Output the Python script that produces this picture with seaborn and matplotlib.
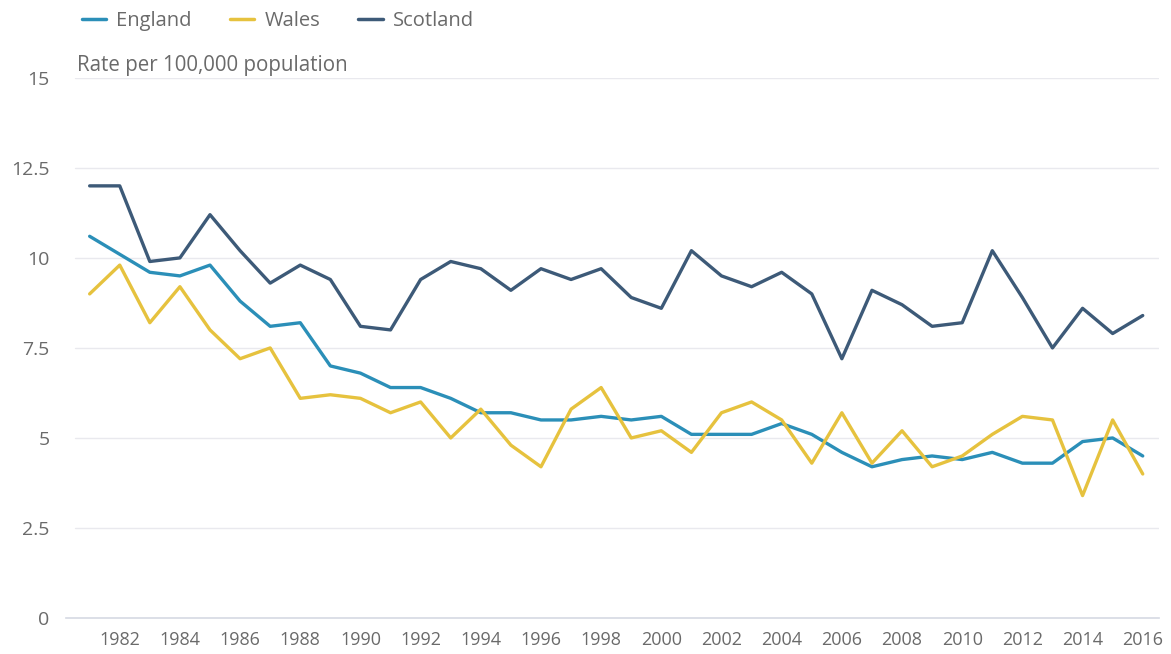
import pandas as pd
import numpy as np
import matplotlib.pyplot as plt
import seaborn as sns

# Values
years = list(range(1981, 2017))
england = [10.6, 10.1, 9.6, 9.5, 9.8, 8.8, 8.1, 8.2, 7.0, 6.8,
           6.4, 6.4, 6.1, 5.7, 5.7, 5.5, 5.5, 5.6, 5.5, 5.6,
           5.1, 5.1, 5.1, 5.4, 5.1, 4.6, 4.2, 4.4, 4.5, 4.4,
           4.6, 4.3, 4.3, 4.9, 5.0, 4.5]
wales = [9.0, 9.8, 8.2, 9.2, 8.0, 7.2, 7.5, 6.1, 6.2, 6.1,
         5.7, 6.0, 5.0, 5.8, 4.8, 4.2, 5.8, 6.4, 5.0, 5.2,
         4.6, 5.7, 6.0, 5.5, 4.3, 5.7, 4.3, 5.2, 4.2, 4.5,
         5.1, 5.6, 5.5, 3.4, 5.5, 4.0]
scotland = [12.0, 12.0, 9.9, 10.0, 11.2, 10.2, 9.3, 9.8, 9.4, 8.1,
            8.0, 9.4, 9.9, 9.7, 9.1, 9.7, 9.4, 9.7, 8.9, 8.6,
            10.2, 9.5, 9.2, 9.6, 9.0, 7.2, 9.1, 8.7, 8.1, 8.2,
            10.2, 8.9, 7.5, 8.6, 7.9, 8.4]
countries = ["England", "Wales", "Scotland"]
colors = ["#2b8fb8", "#e6c23e", "#3d5a78"]
y_ticks = [0, 2.5, 5, 7.5, 10, 12.5, 15]
y_labels = ["0", "2.5", "5", "7.5", "10", "12.5", "15"]
x_ticks = list(range(1982, 2017, 2))

df = pd.DataFrame({
    "Year": years * 3,
    "Rate": england + wales + scotland,
    "Country": ["England"] * len(years) + ["Wales"] * len(years) + ["Scotland"] * len(years),
})

sns.set_style("white")
plt.rcParams['font.family'] = ['Open Sans', 'DejaVu Sans']
text_col = "#6a6a6a"

fig = plt.figure(figsize=(11.71, 6.54), dpi=100)
ax = fig.add_axes([0.056, 0.055, 0.934, 0.826])

sns.lineplot(data=df, x="Year", y="Rate", hue="Country", hue_order=countries,
             palette=colors, linewidth=2.4, ax=ax, legend=False)

ax.set_xlim(1980.2, 2016.55)
ax.set_ylim(0, 15)
ax.set_yticks(y_ticks)
ax.set_yticklabels(y_labels)
ax.set_xticks(x_ticks)
ax.set_xlabel("")
ax.set_ylabel("")

for s in ["top", "right", "left"]:
    ax.spines[s].set_visible(False)
ax.spines["bottom"].set_color("#d5d9e3")
ax.spines["bottom"].set_linewidth(1.2)

# light gridlines start a little right of the axis origin
for yv in y_ticks[1:]:
    ax.axhline(yv, xmin=0.009, color="#e9e9ee", linewidth=1.0, zorder=0)

ax.tick_params(axis="y", length=0, pad=11.5, labelsize=14, labelcolor=text_col)
ax.tick_params(axis="x", length=7, width=1, color="#d5d9e3", pad=2,
               labelsize=13, labelcolor=text_col, direction="out")

ax.text(77 / 1171, 1 - 66 / 654, "Rate per 100,000 population", transform=fig.transFigure,
        fontsize=14.8, color=text_col, va="center", ha="left")

# legend drawn at top
handles = [plt.Line2D([0], [0], color=c, linewidth=2.5) for c in colors]
fig.legend(handles, countries, loc="center left", bbox_to_anchor=(64 / 1171, 1 - 21 / 654),
           ncol=3, frameon=False, fontsize=14.5, handlelength=1.2, handletextpad=0.5,
           columnspacing=1.9, labelcolor=text_col)

fig.savefig("out.png", dpi=100)
